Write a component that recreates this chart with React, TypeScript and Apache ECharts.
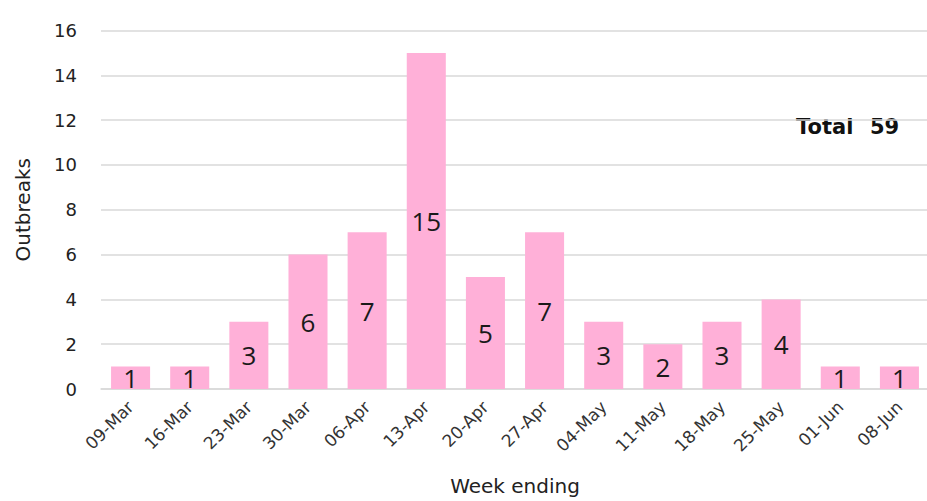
import React, { useEffect, useRef } from "react";
import * as echarts from "echarts";

const weeks = ["09-Mar", "16-Mar", "23-Mar", "30-Mar", "06-Apr", "13-Apr", "20-Apr", "27-Apr", "04-May", "11-May", "18-May", "25-May", "01-Jun", "08-Jun"];
const outbreaks = [1, 1, 3, 6, 7, 15, 5, 7, 3, 2, 3, 4, 1, 1];
const totalLabel = "Total";
const totalValue = 59;

export default function App() {
  const ref = useRef<HTMLDivElement>(null);
  useEffect(() => {
    if (!ref.current) return;
    const chart = echarts.init(ref.current, null, { renderer: "svg" });
    chart.setOption({
      animation: false,
      backgroundColor: "#ffffff",
      grid: { left: 101, right: 3, top: 30.5, bottom: 103, containLabel: false },
      xAxis: {
        type: "category",
        data: weeks,
        name: "Week ending",
        nameLocation: "middle",
        nameGap: 87,
        nameTextStyle: { fontFamily: "DejaVu Sans", fontSize: 20, color: "#222" },
        axisLine: { lineStyle: { color: "#d9d9d9", width: 1.5 } },
        axisTick: { show: false },
        axisLabel: { rotate: 45, margin: 15, fontFamily: "DejaVu Sans", fontSize: 17, color: "#333", interval: 0 },
      },
      yAxis: {
        type: "value",
        min: 0,
        max: 16,
        interval: 2,
        name: "Outbreaks",
        nameLocation: "middle",
        nameGap: 68,
        nameTextStyle: { fontFamily: "DejaVu Sans", fontSize: 20, color: "#222" },
        axisLine: { show: false },
        axisTick: { show: false },
        axisLabel: { margin: 24, fontFamily: "DejaVu Sans", fontSize: 18, color: "#222" },
        splitLine: { lineStyle: { color: "#d9d9d9", width: 1.5 } },
      },
      series: [
        {
          type: "bar",
          data: outbreaks,
          barWidth: "66%",
          itemStyle: { color: "#ffb0d8" },
          label: { show: true, position: "inside", fontFamily: "Open Sans", fontSize: 26, color: "#1a1a1a" },
        },
      ],
      graphic: [
        {
          type: "text",
          left: 796,
          top: 116,
          style: { text: totalLabel, font: "bold 21px 'DejaVu Sans'", fill: "#111" },
        },
        {
          type: "text",
          left: 870,
          top: 116,
          style: { text: String(totalValue), font: "bold 21px 'DejaVu Sans'", fill: "#111" },
        },
      ],
    });
    return () => chart.dispose();
  }, []);
  return (
    <div style={{ position: "fixed", left: 0, top: 0, width: 927, height: 501, overflow: "hidden", background: "#fff" }}>
      <div ref={ref} style={{ width: 932, height: 501 }} />
    </div>
  );
}
